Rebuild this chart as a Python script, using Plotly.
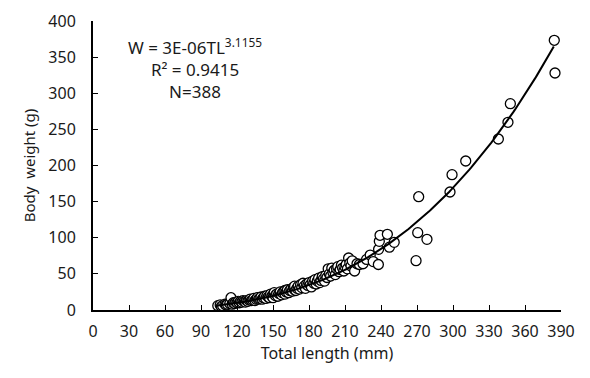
import numpy as np
import plotly.graph_objects as go

total_length = [
    104, 106, 107, 108, 110, 111, 112, 114, 115, 116, 117, 118, 119, 120, 121, 122,
    123, 124, 125, 126, 127, 128, 129, 130, 131, 132, 133, 134, 135, 136, 137, 138,
    139, 140, 141, 142, 143, 144, 145, 146, 147, 148, 149, 150, 150, 151, 152, 153,
    154, 155, 156, 157, 158, 159, 160, 160, 161, 162, 163, 164, 165, 166, 167, 168,
    168, 169, 170, 171, 172, 173, 174, 175, 176, 177, 178, 179, 180, 181, 182, 183,
    184, 185, 186, 187, 188, 189, 190, 191, 192, 193, 194, 195, 196, 197, 198, 199,
    200, 201, 202, 203, 204, 205, 206, 207, 208, 209, 210, 211, 212, 213, 214, 215,
    216, 218, 220, 222, 225, 228, 231, 233.5, 237.8, 238, 238.6, 239.2, 245.3, 247,
    251, 269.2, 270.6, 271.4, 278.3, 297.5, 299.2, 310.6, 337.8, 345.8, 347.8, 384.4,
    385,
]
body_weight = [
    6, 7, 5, 6, 8, 7, 8, 9, 17, 8, 10, 9, 11, 10, 12, 10,
    12, 11, 13, 12, 11, 13, 12, 14, 15, 13, 14, 16, 13, 15, 17, 15,
    16, 18, 15, 17, 19, 16, 20, 18, 17, 22, 19, 21, 17, 24, 20, 22,
    19, 23, 25, 21, 24, 26, 22, 27, 25, 28, 24, 27, 29, 26, 31, 28,
    33, 27, 30, 33, 29, 35, 31, 37, 33, 30, 36, 34, 38, 35, 32, 40,
    37, 42, 36, 40, 44, 38, 41, 46, 43, 40, 48, 45, 57, 50, 47, 58,
    52, 55, 49, 57, 60, 53, 56, 62, 58, 54, 60, 63, 57, 72, 65, 61,
    68, 54, 64, 63, 64, 70, 76, 67, 63, 84, 95, 103.4, 104.8, 87,
    93.7, 68.3, 107, 156.8, 97.8, 163.3, 187.3, 206.2, 236.7, 259.8, 285.6, 373.3,
    328,
]

# Power-law trend line W = a * TL^b (equation shown on the chart)
coef_a = 3.24e-6
coef_b = 3.1155
fit_x = np.linspace(104, 384, 200)
fit_y = coef_a * fit_x ** coef_b

x_ticks = list(range(0, 391, 30))
y_ticks = list(range(0, 401, 50))

eq_lines = ["W = 3E-06TL<sup>3.1155</sup>", "R² = 0.9415", "N=388"]

FONT = "Noto Sans"
TXT = "#1a1a1a"

# plot-area pixel box (for placing the equation text)
L, R, T, B = 93, 561, 21, 310
W_PX, H_PX = 590, 378


def px_to_paper(px, py):
    return ((px - L) / (R - L), (B - py) / (B - T))


ax, ay = px_to_paper(195, 68)
anns = [dict(x=ax, y=ay, xref="paper", yref="paper",
             xanchor="center", yanchor="middle", showarrow=False, align="center",
             text="<br>".join(eq_lines),
             font=dict(family=FONT, size=17, color=TXT))]

fig = go.Figure()
fig.add_trace(go.Scatter(
    x=total_length, y=body_weight, mode="markers",
    marker=dict(symbol="circle", size=10, color="white",
                line=dict(color="black", width=1.3)),
    showlegend=False, cliponaxis=False,
))
fig.add_trace(go.Scatter(
    x=fit_x, y=fit_y, mode="lines",
    line=dict(color="black", width=2), showlegend=False,
))

fig.update_layout(
    width=W_PX, height=H_PX,
    margin=dict(l=L, r=W_PX - R, t=T, b=H_PX - B, autoexpand=False),
    paper_bgcolor="white", plot_bgcolor="white",
    font=dict(family=FONT, size=16, color=TXT),
    xaxis=dict(
        range=[0, 390], tickvals=x_ticks, ticks="inside", ticklen=5,
        tickwidth=1, tickcolor="black", showline=True, linecolor="black",
        linewidth=2, showgrid=False, zeroline=False, automargin=False,
        ticklabelstandoff=6, tickfont=dict(size=16),
        title=dict(text="Total length (mm)", standoff=3,
                   font=dict(family=FONT, size=16, color=TXT)),
    ),
    yaxis=dict(
        range=[0, 400], tickvals=y_ticks, ticks="inside", ticklen=5,
        tickwidth=1, tickcolor="black", showline=True, linecolor="black",
        linewidth=2, showgrid=False, zeroline=False, automargin=False,
        ticklabelstandoff=12, tickfont=dict(size=16),
        title=dict(text="Body  weight (g)", standoff=9,
                   font=dict(family=FONT, size=15, color=TXT)),
    ),
    annotations=anns,
)

fig.write_html("out.html", config={"displayModeBar": False},
               post_script="document.body.style.margin='0';")
